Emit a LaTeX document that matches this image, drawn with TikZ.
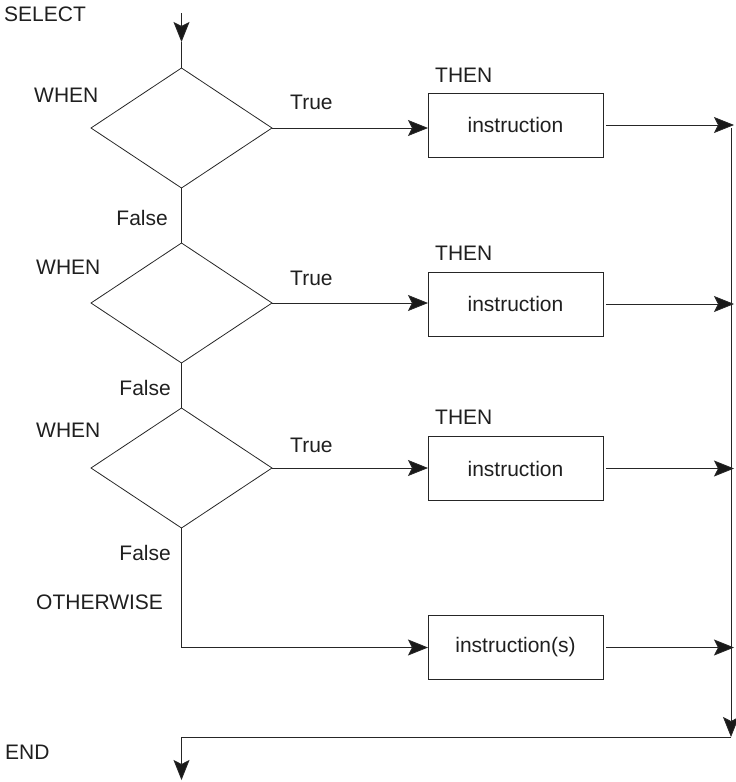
\documentclass[tikz,border=0pt]{standalone}
\usepackage{fontspec}
\setmainfont{Liberation Sans}
\usetikzlibrary{shapes.geometric,arrows.meta}
\begin{document}
\begin{tikzpicture}[x=1pt,y=-1pt,
  every node/.style={font=\fontsize{21}{25}\selectfont, text=black!88},
  dec/.style={diamond, draw=black!85, line width=0.8pt, minimum width=181pt, minimum height=120pt, inner sep=0pt, outer sep=0pt},
  box/.style={rectangle, draw=black!85, line width=0.8pt, minimum width=175pt, minimum height=64pt, inner sep=0pt, outer sep=0pt},
  lbl/.style={anchor=west, inner sep=0pt},
  rlbl/.style={anchor=east, inner sep=0pt},
  flow/.style={line width=0.8pt, draw=black!85},
  arr/.style={flow, -{Stealth[length=20pt,width=16pt,inset=4pt,fill=black!90]}}
]
\useasboundingbox (0,0) rectangle (736,782);

% decisions
\node[dec] (d1) at (181.5,128) {};
\node[dec] (d2) at (181.5,303) {};
\node[dec] (d3) at (181.5,468) {};

% boxes
\node[box] (b1) at (515.5,125) {instruction};
\node[box] (b2) at (515.5,304) {instruction};
\node[box] (b3) at (515.5,468.5) {instruction};
\node[box] (b4) at (515.5,647.5) {instruction(s)};

% labels
\node[lbl] (lselect) at (4,14) {SELECT};
\node[lbl] (lw1) at (34,95) {WHEN};
\node[lbl] (lw2) at (36,267) {WHEN};
\node[lbl] (lw3) at (36,430) {WHEN};
\node[lbl] (lt1) at (290,102) {True};
\node[lbl] (lt2) at (290,278) {True};
\node[lbl] (lt3) at (290,445) {True};
\node[rlbl] (lf1) at (168,218) {False};
\node[rlbl] (lf2) at (171,388) {False};
\node[rlbl] (lf3) at (171,553) {False};
\node[lbl] (lth1) at (435,75) {THEN};
\node[lbl] (lth2) at (435,253) {THEN};
\node[lbl] (lth3) at (435,417) {THEN};
\node[lbl] (lother) at (36,602) {OTHERWISE};
\node[lbl] (lend) at (5,752) {END};

% coordinates
\coordinate (top) at (181.5,13);
\coordinate (topmid) at (181.5,42);
\coordinate (rtop) at (731,128);
\coordinate (rbot) at (731,737);
\coordinate (lbot) at (181.5,737);
\coordinate (endtip) at (181.5,780);
\coordinate (othcorner) at (181.5,647.5);

% entry
\draw[arr] (top) -- (topmid);
\draw[flow] (topmid) -- (d1.north);

% false chain
\draw[flow] (d1.south) -- (d2.north);
\draw[flow] (d2.south) -- (d3.north);
\draw[flow] (d3.south) -- (othcorner);
\draw[arr] (othcorner) -- (b4.west);

% true branches
\draw[arr] (d1.east) -- (d1.east -| b1.west);
\draw[arr] (d2.east) -- (d2.east -| b2.west);
\draw[arr] (d3.east) -- (d3.east -| b3.west);

% outputs to right bus
\draw[arr] ([xshift=3pt]b1.east) -- ([xshift=3pt]b1.east -| rtop);
\draw[arr] ([xshift=3pt]b2.east) -- ([xshift=3pt]b2.east -| rtop);
\draw[arr] ([xshift=3pt]b3.east) -- ([xshift=3pt]b3.east -| rtop);
\draw[arr] ([xshift=3pt]b4.east) -- ([xshift=3pt]b4.east -| rtop);

% bus and exit
\draw[arr] (rtop) -- (rbot);
\draw[flow] (rbot) -- (lbot);
\draw[arr] (lbot) -- (endtip);
\end{tikzpicture}
\end{document}
